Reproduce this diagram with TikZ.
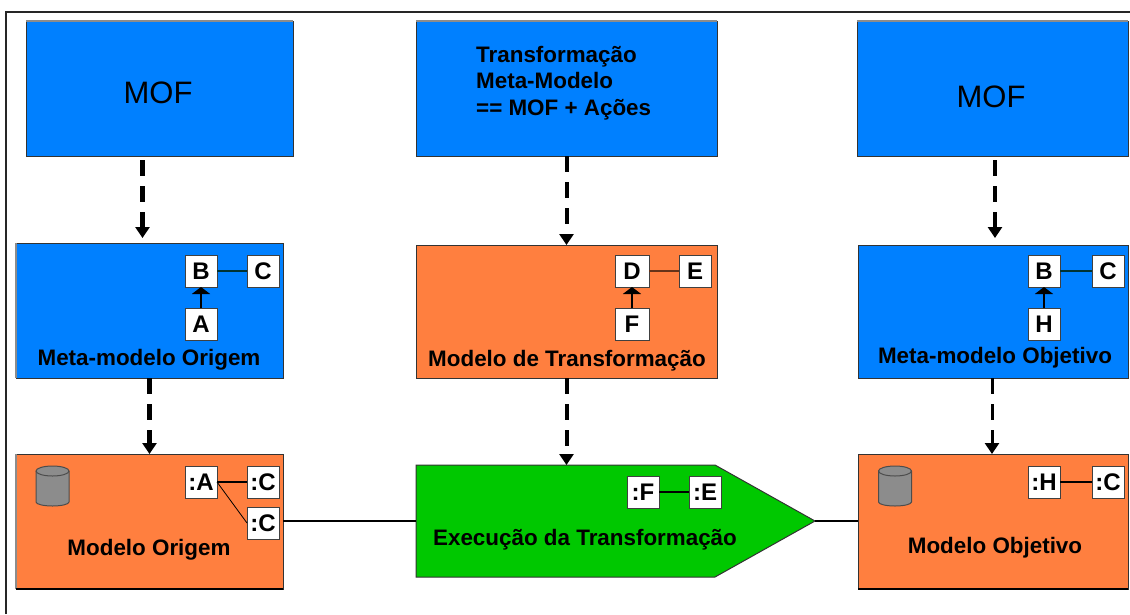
\documentclass[tikz,border=0pt]{standalone}
\usepackage{fontspec}
\setmainfont{Liberation Sans}
\usetikzlibrary{arrows.meta,shapes.symbols}
\definecolor{bl}{HTML}{0080FF}
\definecolor{orng}{HTML}{FF7F3F}
\definecolor{grn}{HTML}{00C800}
\definecolor{cylg}{HTML}{8C8C8C}
\tikzset{
 x=1pt,y=-1pt,
 bigbox/.style={draw=black!80,line width=1pt,anchor=north west,inner sep=0pt,outer sep=0pt},
 blue box/.style={bigbox,fill=bl},
 orange box/.style={bigbox,fill=orng},
 small/.style={draw=black!75,fill=white,line width=1pt,minimum width=32pt,minimum height=32pt,inner sep=0pt,outer sep=0pt,font=\fontsize{24}{24}\selectfont\bfseries},
 lbl/.style={font=\fontsize{22.4}{24}\selectfont\bfseries,inner sep=0pt,black,anchor=base},
 mof/.style={font=\fontsize{31}{31}\selectfont,inner sep=0pt,anchor=base},
 dep/.style={draw=black,dash pattern=on 16pt off 10pt,-{Triangle[length=11pt,width=14pt]}},
 gen/.style={black,line width=2pt,-{Triangle[length=7pt,width=18pt]}},
 assoc/.style={line width=1.2pt},
 dbshape/.style={draw=black!70,line width=1pt,fill=cylg},
 edgegray/.style={draw=black!45,line width=2pt},
 edgeblack/.style={draw=black,line width=2.5pt},
}
\newcommand{\dbcyl}[1]{%
 \coordinate (#1w) at ([shift={(-16.5pt,15pt)}]#1);
 \filldraw[dbshape] (#1w) -- ++(0pt,-31pt) arc[start angle=180,end angle=360,x radius=16.5pt,y radius=4pt]
   -- ++(0pt,31pt) arc[start angle=0,end angle=180,x radius=16.5pt,y radius=5pt] -- cycle;
 \draw[dbshape,fill=none] (#1w) arc[start angle=180,end angle=360,x radius=16.5pt,y radius=5pt];
}
\begin{document}
\begin{tikzpicture}
\useasboundingbox (0,0) rectangle (1130,614);
\coordinate (fa) at (6,614);
\coordinate (fb) at (6,12);
\coordinate (fc) at (1130,12);
\draw[line width=1.6pt,black!85] (fa) -- (fb) -- (fc);

\node[blue box,minimum width=267pt,minimum height=135pt] (mofa) at (26,21) {};
\node[blue box,minimum width=301pt,minimum height=135pt] (tmm) at (416,21) {};
\node[blue box,minimum width=271pt,minimum height=135pt] (mofc) at (857,21) {};
\node[blue box,minimum width=267pt,minimum height=135pt] (mma) at (16,243) {};
\node[orange box,minimum width=301pt,minimum height=133pt] (mt) at (416,245) {};
\node[blue box,minimum width=270pt,minimum height=133pt] (mmo) at (858,245) {};
\node[orange box,minimum width=267pt,minimum height=135pt] (mo) at (16,454) {};
\node[orange box,minimum width=270pt,minimum height=135pt] (mob) at (858,454) {};
\node[signal,signal to=east,signal from=nowhere,signal pointer angle=58.5,draw=black!80,line width=1pt,fill=grn,anchor=west,minimum width=399pt,minimum height=112pt,inner sep=0pt,outer sep=0pt] (ex) at (416,521) {};

\draw[edgegray] (mofa.north west) -- (mofa.north east);
\draw[edgegray] (tmm.north west) -- (tmm.north east);
\draw[edgegray] (mofc.north west) -- (mofc.north east);
\draw[edgegray] (mma.north west) -- (mma.south west);
\draw[edgegray] (mo.north west) -- (mo.south west);
\draw[edgeblack] (mo.south west) -- (mo.south east);
\draw[edgeblack] (mob.south west) -- (mob.south east);

\node[mof] (t1) at (158,103) {MOF};
\node[mof] (t3) at (991,107) {MOF};
\node[lbl,anchor=base west] (t2a) at (476,62) {Transformação};
\node[lbl,anchor=base west] (t2b) at (476,88) {Meta-Modelo};
\node[lbl,anchor=base west] (t2c) at (476,115) {== MOF + Ações};
\node[lbl] (l1) at (149,365) {Meta-modelo Origem};
\node[lbl] (l2) at (567,366) {Modelo de Transformação};
\node[lbl] (l3) at (995,363) {Meta-modelo Objetivo};
\node[lbl] (l4) at (149,555) {Modelo Origem};
\node[lbl] (l5) at (585,545) {Execução da Transformação};
\node[lbl] (l6) at (995,553) {Modelo Objetivo};

\node[small] (b1) at (201,271) {B};
\node[small] (c1) at (263,271) {C};
\node[small] (a1) at (201,324) {A};
\node[small,minimum width=34pt] (d) at (632,271) {D};
\node[small] (e) at (695,271) {E};
\node[small,minimum width=34pt] (f) at (632,324) {F};
\node[small] (b3) at (1044,271) {B};
\node[small] (c3) at (1108,271) {C};
\node[small] (h) at (1044,324) {H};
\node[small] (ia) at (201,482) {:A};
\node[small] (ic1) at (263,482) {:C};
\node[small] (ic2) at (263,523) {:C};
\node[small] (if) at (643,492) {:F};
\node[small] (ie) at (705,492) {:E};
\node[small] (ih) at (1044,482) {:H};
\node[small] (ic3) at (1108,482) {:C};
\coordinate (da) at (52.5,486);
\coordinate (db) at (895,486);
\dbcyl{da}
\dbcyl{db}

\draw[assoc,draw=black!60!teal] (b1) -- (c1);
\draw[assoc,draw=black!60!orng] (d) -- (e);
\draw[assoc,draw=black!60!teal] (b3) -- (c3);
\draw[gen] (a1) -- (b1);
\draw[gen] (f) -- (d);
\draw[gen] (h) -- (b3);
\draw[line width=2pt] (ia.east) -- (ic1.west);
\draw[line width=.8pt] (ia.east) -- (ic2.west);
\draw[line width=2pt] (if) -- (ie);
\draw[line width=2pt] (ih) -- (ic3);
\draw[line width=1.5pt] (mo.east |- ex.west) -- (ex.west);
\draw[line width=1.5pt] (ex.east) -- (mob.west |- ex.east);

\draw[dep,line width=4.5pt] ([xshift=-17pt,yshift=-4pt]mofa.south) -- ([xshift=-17pt,yshift=5pt]mma.north -| mofa.south);
\draw[dep,line width=4pt] (tmm.south) -- (mt.north);
\draw[dep,line width=4.5pt] ([xshift=2.5pt,yshift=-4pt]mofc.south) -- ([xshift=2.5pt,yshift=7pt]mmo.north -| mofc.south);
\draw[dep,line width=5pt] (mma.south) -- (mo.north);
\draw[dep,line width=4pt] (mt.south) -- (mt.south |- ex.north);
\draw[dep,line width=3pt] ([xshift=-1pt]mmo.south) -- ([xshift=-1pt]mob.north);
\end{tikzpicture}
\end{document}
